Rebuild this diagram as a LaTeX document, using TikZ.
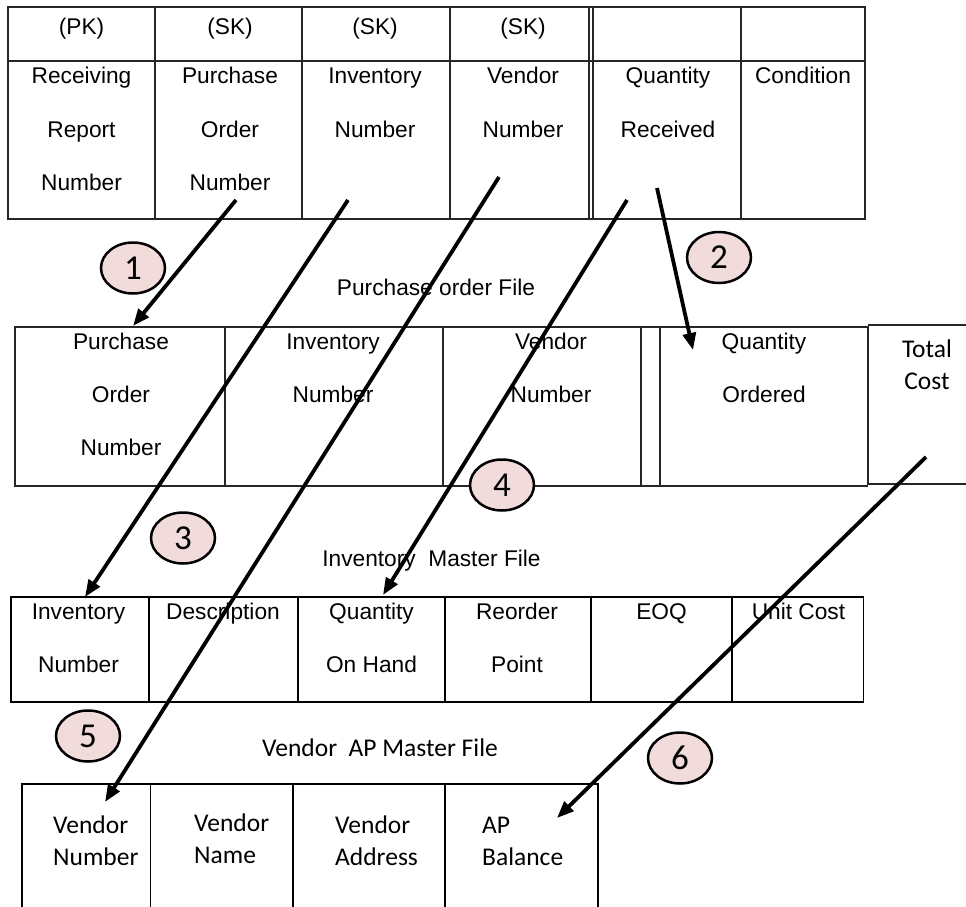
\documentclass[tikz,border=0pt]{standalone}
\usepackage{fontspec}
\setmainfont{Liberation Sans}
\newfontfamily\calfont{Carlito}
\usetikzlibrary{arrows.meta,shapes.geometric}
\newcommand\hsA{\rule{0pt}{17.5pt}}
\newcommand\hsC{\rule{0pt}{19pt}}
\definecolor{pinkfill}{HTML}{F2DCDB}
\begin{document}
\begin{tikzpicture}[x=1pt,y=-1pt,
  tbl/.style={draw=black!85, line width=1.1pt},
  tblb/.style={draw=black, line width=1.5pt},
  acell/.style={align=center, inner sep=0pt, anchor=north, font=\fontsize{22.7}{53.3}\selectfont},
  atitle/.style={inner sep=0pt, anchor=north, font=\fontsize{22.7}{27}\selectfont},
  ccell/.style={align=left, inner sep=0pt, anchor=north west, font=\calfont\fontsize{25.5}{32}\selectfont},
  ccenter/.style={align=center, inner sep=0pt, anchor=north, font=\calfont\fontsize{25.5}{32}\selectfont},
  badge/.style={ellipse, draw=black, line width=2.5pt, fill=pinkfill, minimum width=64pt, minimum height=51pt, inner sep=0pt, font=\calfont\fontsize{35}{38}\selectfont},
  link/.style={draw=black, line width=3.8pt, -{Triangle[length=17pt,width=13pt]}}
]
\useasboundingbox (0,0) rectangle (966,907);

% ---------- Receiving report (top table)
\draw[tbl] (8,7) rectangle (865,219);
\draw[tbl] (8,61) -- (865,61);
\foreach \x in {155,302,450,589,593,741} \draw[tbl] (\x,7) -- (\x,219);
\node[acell] (rpk)  at (81.5,16.5) {\hsA(PK)};
\node[acell] (rsk1) at (230,16.5) {\hsA(SK)};
\node[acell] (rsk2) at (375,16.5) {\hsA(SK)};
\node[acell] (rsk3) at (523,16.5) {\hsA(SK)};
\node[acell] (rrrn) at (81.5,66) {\hsA Receiving\\Report\\Number};
\node[acell] (rpon) at (230,66) {\hsA Purchase\\Order\\Number};
\node[acell] (rinv) at (375,66) {\hsA Inventory\\Number};
\node[acell] (rven) at (523,66) {\hsA Vendor\\Number};
\node[acell] (rqty) at (668,66) {\hsA Quantity\\Received};
\node[acell] (rcon) at (803,66) {\hsA Condition};

% ---------- Purchase order file
\node[atitle] (potitle) at (436,277.5) {\hsA Purchase order File};
\draw[tbl] (15,327) rectangle (867.5,486);
\foreach \x in {225,443,641,660} \draw[tbl] (\x,327) -- (\x,486);
\draw[tbl] (968,325) -- (868.3,325) -- (868.3,484) -- (968,484);
\node[acell,font=\fontsize{22.7}{53}\selectfont] (popon) at (121,331.5) {\hsA Purchase\\Order\\Number};
\node[acell,font=\fontsize{22.7}{53}\selectfont] (poinv) at (333,331.5) {\hsA Inventory\\Number};
\node[acell,font=\fontsize{22.7}{53}\selectfont] (poven) at (551,331.5) {\hsA Vendor\\Number};
\node[acell,font=\fontsize{22.7}{53}\selectfont] (poqty) at (764,331.5) {\hsA Quantity\\Ordered};
\node[ccenter] (potc) at (927,338.7) {\hsC Total\\Cost};

% ---------- Inventory master file
\node[atitle] (imtitle) at (431.5,548.5) {\hsA Inventory\ \ Master File};
\draw[tblb] (11,597) rectangle (863.5,702);
\foreach \x in {149,298,445,591,732} \draw[tblb] (\x,597) -- (\x,702);
\node[acell] (iminv) at (78.5,601.8) {\hsA Inventory\\Number};
\node[acell] (imdes) at (223,601.8) {\hsA Description};
\node[acell] (imqoh) at (371.5,601.8) {\hsA Quantity\\On Hand};
\node[acell] (imrop) at (517,601.8) {\hsA Reorder\\Point};
\node[acell] (imeoq) at (661.5,601.8) {\hsA EOQ};
\node[acell] (imuc)  at (798.5,601.8) {\hsA Unit Cost};

% ---------- Vendor AP master file
\node[ccenter] (vtitle) at (380,737.7) {\hsC Vendor\ \ AP Master File};
\draw[tblb] (22,912) -- (22,784) -- (598,784) -- (598,912);
\foreach \x in {150.7,293,445} \draw[tblb] (\x,784) -- (\x,912);
\node[ccell] (vnum)  at (53,814)    {\hsC Vendor\\Number};
\node[ccell] (vname) at (194,812.7) {\hsC Vendor\\Name};
\node[ccell] (vaddr) at (335,814)   {\hsC Vendor\\Address};
\node[ccell] (vbal)  at (482,814)   {\hsC AP\\Balance};

% ---------- badges
\node[badge] (b1) at (133,268) {1};
\node[badge] (b2) at (719,257.5) {2};
\node[badge] (b3) at (183,538) {3};
\node[badge] (b4) at (502,485) {4};
\node[badge] (b5) at (88,736) {5};
\node[badge] (b6) at (680,758) {6};

% ---------- connector end points
\coordinate (s1) at (236,200);  \coordinate (e1) at (133,326);
\coordinate (s2) at (657,188);  \coordinate (e2) at (693,350);
\coordinate (s3) at (348,200);  \coordinate (e3) at (85,597);
\coordinate (s4) at (627,200);  \coordinate (e4) at (383,595);
\coordinate (s5) at (499,177);  \coordinate (e5) at (105,802);
\coordinate (s6) at (926,457);  \coordinate (e6) at (557,818);

\draw[link] (s1) -- (e1);
\draw[link] (s2) -- (e2);
\draw[link] (s3) -- (e3);
\draw[link] (s4) -- (e4);
\draw[link] (s5) -- (e5);
\draw[link] (s6) -- (e6);
\end{tikzpicture}
\end{document}
